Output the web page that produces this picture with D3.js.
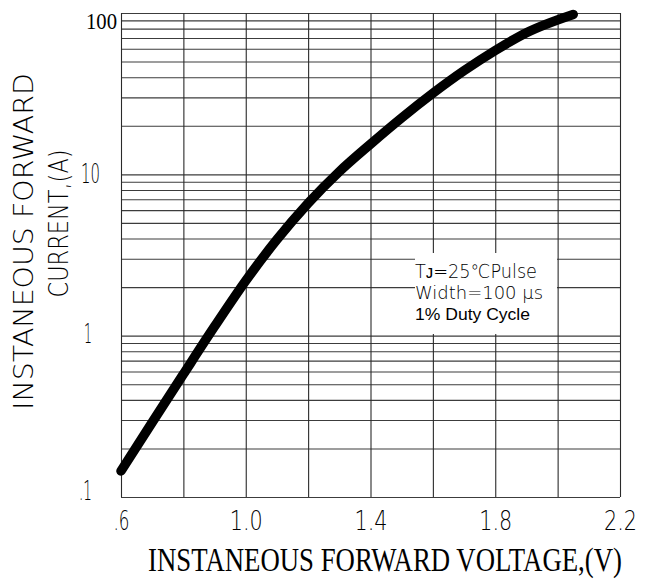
<!DOCTYPE html>
<html>
<head>
<meta charset="utf-8">
<script src="https://cdn.jsdelivr.net/npm/d3@7"></script>
<style>
  html, body { margin: 0; padding: 0; background: #fff; }
  svg { display: block; }
  .thin { font-family: "DejaVu Sans", sans-serif; font-weight: 200; fill: #000; }
</style>
</head>
<body>
<svg id="chart" width="656" height="583"></svg>
<script>
// ---- data ----
const voltage = [0.6, 0.7, 0.8, 0.9, 1.0, 1.1, 1.2, 1.3, 1.4, 1.5, 1.6, 1.7, 1.8, 1.9, 2.05];
const current = [0.145, 0.29, 0.577, 1.14, 2.19, 3.94, 6.62, 10.4, 15.4, 22.4, 31.8, 43.9, 58.6, 75.5, 98];
const xTickLabels = [0.6, 1.0, 1.4, 1.8, 2.2];
const xGridValues = [0.6, 0.8, 1.0, 1.2, 1.4, 1.6, 1.8, 2.0, 2.2];
const yTickLabels = [0.1, 1, 10, 100];
const yTickText = [".1", "1", "10", "100"];
const noteLines = ["T\u1D0A=25\u2103Pulse", "Width=100 \u03BCs", "1% Duty Cycle"];
const xTitle = "INSTANEOUS FORWARD VOLTAGE,(V)";
const yTitle = ["INSTANEOUS FORWARD", "CURRENT,(A)"];

// ---- layout ----
const L = 121, R = 620, T = 13, B = 497;
const svg = d3.select("#chart");
const x = d3.scaleLinear().domain([0.6, 2.2]).range([L, R]);
const y = d3.scaleLog().domain([0.1, 100]).range([B, T]);

// horizontal grid: 1..9 x 10^k
const yGrid = [];
for (let k = -1; k <= 1; k++) for (let m = 1; m <= 9; m++) yGrid.push(m * Math.pow(10, k));
yGrid.push(100);

const grid = svg.append("g");
grid.append("g")
  .attr("transform", `translate(${L},0)`)
  .call(d3.axisLeft(y).tickValues(yGrid).tickSize(-(R - L)).tickFormat(""))
  .call(g => g.select(".domain").remove())
  .call(g => g.selectAll("line").attr("stroke", "#3c3c3c").attr("stroke-width", 1.1));
grid.append("g")
  .attr("transform", `translate(0,${B})`)
  .call(d3.axisBottom(x).tickValues(xGridValues).tickSize(-(B - T)).tickFormat(""))
  .call(g => g.select(".domain").remove())
  .call(g => g.selectAll("line").attr("stroke", "#2a2a2a").attr("stroke-width", 1.1));

// note box (white)
svg.append("rect")
  .attr("x", 415).attr("y", 253)
  .attr("width", x(2.0) - 415 - 0.6).attr("height", 81)
  .attr("fill", "#fff");

// curve
const line = d3.line()
  .x((d, i) => x(voltage[i]))
  .y((d, i) => y(current[i]))
  .curve(d3.curveMonotoneX);
svg.append("path")
  .datum(current)
  .attr("d", line)
  .attr("fill", "none")
  .attr("stroke", "#000")
  .attr("stroke-width", 9.5)
  .attr("stroke-linecap", "round")
  .attr("stroke-linejoin", "round");

// x tick labels
const xAx = svg.append("g")
  .attr("transform", `translate(0,${B})`)
  .call(d3.axisBottom(x).tickValues(xTickLabels).tickSize(0).tickPadding(0)
    .tickFormat(d => d < 1 ? d3.format(".1f")(d).replace(/^0/, "") : d3.format(".1f")(d)));
xAx.select(".domain").remove();
xAx.selectAll("text")
  .attr("class", "thin")
  .attr("y", 33)
  .attr("dy", 0)
  .attr("font-size", 26)
  .attr("textLength", d => d < 1 ? 16 : 33)
  .attr("lengthAdjust", "spacingAndGlyphs");

// y tick labels
const yAx = svg.append("g")
  .attr("transform", `translate(${L},0)`)
  .call(d3.axisLeft(y).tickValues(yTickLabels).tickSize(0).tickPadding(0)
    .tickFormat((d, i) => yTickText[i]));
yAx.select(".domain").remove();
yAx.selectAll("text").each(function(d) {
  const t = d3.select(this);
  if (d === 100) {
    t.attr("font-family", "'Liberation Serif', 'Times New Roman', serif")
     .attr("font-size", 23).attr("fill", "#000")
     .attr("x", -4).attr("dy", 0).attr("y", 15)
     .attr("textLength", 31).attr("lengthAdjust", "spacingAndGlyphs");
  } else {
    t.attr("class", "thin").attr("font-size", 26)
     .attr("x", d === 10 ? -21 : -29).attr("dy", 0)
     .attr("y", d === 10 ? 8 : (d === 1 ? 7 : 2))
     .attr("textLength", d === 10 ? 19 : (d === 1 ? 8 : 13))
     .attr("lengthAdjust", "spacingAndGlyphs");
  }
});

// x axis title: measured, then scaled to fit the reference box (condensed serif look)
const xt = svg.append("text")
  .attr("x", 0).attr("y", 0)
  .attr("text-anchor", "middle")
  .attr("font-family", "'Liberation Serif', 'Times New Roman', serif")
  .attr("font-size", 26)
  .attr("fill", "#000")
  .text(xTitle);
const natW = xt.node().getComputedTextLength();
const sx = 474 / natW, sy = 34 / 26;
xt.attr("transform", `translate(${(148 + 622) / 2},571) scale(${sx},${sy})`);

svg.append("text")
  .attr("class", "thin")
  .attr("transform", "translate(33,241.5) rotate(-90)")
  .attr("text-anchor", "middle")
  .attr("font-size", 27)
  .attr("textLength", 337).attr("lengthAdjust", "spacingAndGlyphs")
  .text(yTitle[0]);
svg.append("text")
  .attr("class", "thin")
  .attr("transform", "translate(68,223.5) rotate(-90)")
  .attr("text-anchor", "middle")
  .attr("font-size", 27)
  .attr("textLength", 148).attr("lengthAdjust", "spacingAndGlyphs")
  .text(yTitle[1]);

// note
const note = svg.append("g");
note.append("text").attr("class", "thin").attr("x", 415).attr("y", 278)
  .attr("font-size", 19).attr("textLength", 122).attr("lengthAdjust", "spacingAndGlyphs")
  .text(noteLines[0]);
note.append("text").attr("class", "thin").attr("x", 415).attr("y", 299)
  .attr("font-size", 18).attr("textLength", 128).attr("lengthAdjust", "spacingAndGlyphs")
  .text(noteLines[1]);
note.append("text").attr("x", 415).attr("y", 320)
  .attr("font-family", "'Liberation Sans', Arial, sans-serif")
  .attr("font-size", 16.5).attr("fill", "#000")
  .attr("textLength", 115).attr("lengthAdjust", "spacingAndGlyphs")
  .text(noteLines[2]);
</script>
</body>
</html>
